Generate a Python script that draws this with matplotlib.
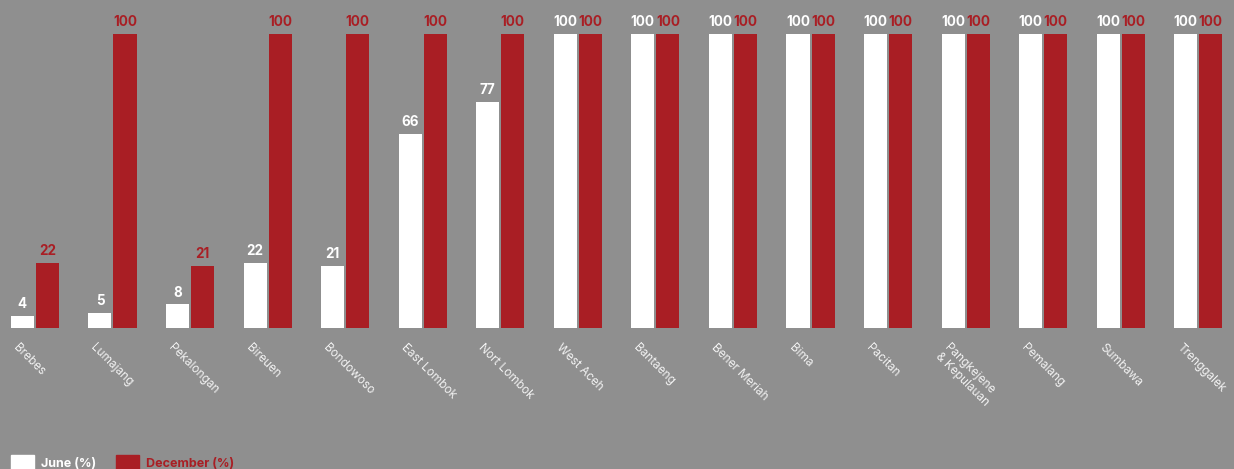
import numpy as np
import matplotlib
matplotlib.rcParams['figure.dpi'] = 100
import matplotlib.pyplot as plt
from matplotlib.patches import Rectangle

plt.rcParams['font.family'] = ['Inter', 'DejaVu Sans']

districts = ['Brebes', 'Lumajang', 'Pekalongan', 'Bireuen', 'Bondowoso',
             'East Lombok', 'Nort Lombok', 'West Aceh', 'Bantaeng',
             'Bener Meriah', 'Bima', 'Pacitan', 'Pangkejene\n& Kepulauan',
             'Pemalang', 'Sumbawa', 'Trenggalek']
june = [4, 5, 8, 22, 21, 66, 77, 100, 100, 100, 100, 100, 100, 100, 100, 100]
december = [22, 100, 21, 100, 100, 100, 100, 100, 100, 100, 100, 100, 100,
            100, 100, 100]

BG = '#8f8f8f'
RED = '#a91e24'
WHITE = '#ffffff'

fig = plt.figure(figsize=(12.34, 4.69), facecolor=BG)
ax = fig.add_axes([0, 0.3006, 1, 0.6269])
ax.set_facecolor(BG)

x = np.arange(len(districts))
w = 0.297
b1 = ax.bar(x - w / 2 - 0.013, june, width=w, color=WHITE)
b2 = ax.bar(x + w / 2 + 0.013, december, width=w, color=RED)

for bars, vals, col in [(b1, june, WHITE), (b2, december, RED)]:
    for rect, v in zip(bars, vals):
        ax.annotate(str(v), (rect.get_x() + rect.get_width() / 2, v),
                    xytext=(0, 3.5), textcoords='offset points',
                    ha='center', va='bottom', color=col,
                    fontsize=9.7, fontweight='bold')

ax.set_xlim(-0.45, 15.46)
ax.set_ylim(0, 100)
ax.set_xticks(x - 0.2)
ax.set_xticklabels(districts, rotation=-45, ha='left', va='top',
                   rotation_mode='anchor', color='#f2f2f2', fontsize=8.5,
                   linespacing=1.0)
ax.tick_params(axis='x', length=0, pad=10)
ax.set_yticks([])
for s in ax.spines.values():
    s.set_visible(False)

# legend drawn by hand along the bottom edge
W, H = 1234, 469
for px, col, label in [(11, WHITE, 'June (%)'), (116, RED, 'December (%)')]:
    fig.patches.append(Rectangle((px / W, 0), 23 / W, 14 / H,
                                 transform=fig.transFigure, color=col))
    fig.text((px + 30) / W, 5 / H, label, color=col, fontsize=9,
             fontweight='bold', va='center', ha='left')

fig.savefig('out.png', facecolor=BG)
